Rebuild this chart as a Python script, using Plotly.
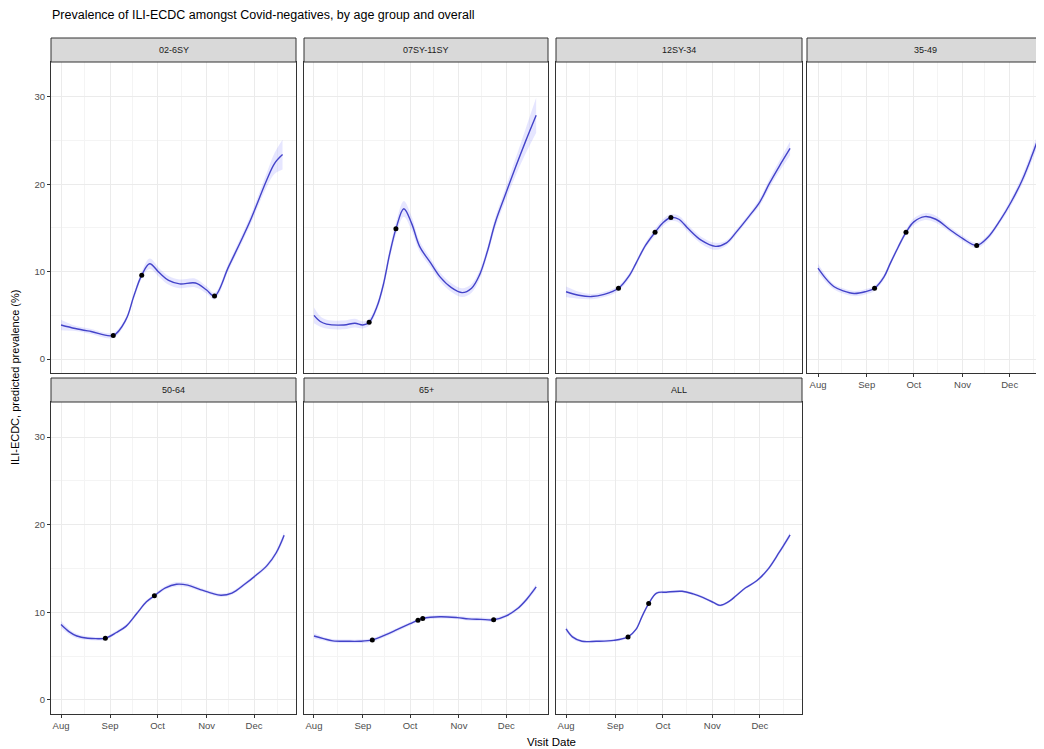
import plotly.graph_objects as go

# ---------------- data ----------------
TITLE = "Prevalence of ILI-ECDC amongst Covid-negatives, by age group and overall"
Y_TITLE = "ILI-ECDC, predicted prevalence (%)"
X_TITLE = "Visit Date"

panel_names = ["02-6SY", "07SY-11SY", "12SY-34", "35-49", "50-64", "65+", "ALL"]

month_ticks = ["2020-08-01", "2020-09-01", "2020-10-01", "2020-11-01", "2020-12-01"]
month_labels = ["Aug", "Sep", "Oct", "Nov", "Dec"]
month_minor = ["2020-07-16", "2020-08-16", "2020-09-15", "2020-10-16", "2020-11-15", "2020-12-16"]
y_ticks = [0, 10, 20, 30]
y_minor = [5, 15, 25]

# 02-6SY
dates_a = ["2020-08-01", "2020-08-10", "2020-08-20", "2020-09-03", "2020-09-11", "2020-09-16",
           "2020-09-21", "2020-09-26", "2020-10-02", "2020-10-08", "2020-10-15", "2020-10-25",
           "2020-11-01", "2020-11-06", "2020-11-15", "2020-11-28", "2020-12-09", "2020-12-14",
           "2020-12-19"]
prev_a = [3.9, 3.5, 3.15, 2.7, 4.5, 7.2, 9.6, 10.9, 9.9, 9.0, 8.6, 8.7, 7.9, 7.2, 10.6, 15.6,
          20.5, 22.4, 23.4]
ci_a = [0.6, 0.3, 0.3, 0.3, 0.3, 0.4, 0.4, 0.6, 0.5, 0.5, 0.5, 0.5, 0.4, 0.4, 0.4, 0.5, 0.8,
        1.2, 1.7]
pt_dates_a = ["2020-09-03", "2020-09-21", "2020-11-06"]
pt_prev_a = [2.7, 9.6, 7.2]

# 07SY-11SY
dates_b = ["2020-08-01", "2020-08-05", "2020-08-09", "2020-08-20", "2020-08-27", "2020-09-01",
           "2020-09-05", "2020-09-10", "2020-09-14", "2020-09-18", "2020-09-22", "2020-09-27",
           "2020-10-02", "2020-10-07", "2020-10-14", "2020-10-20", "2020-10-27", "2020-11-03",
           "2020-11-09", "2020-11-14", "2020-11-19", "2020-11-24", "2020-11-30", "2020-12-07",
           "2020-12-13", "2020-12-20"]
prev_b = [5.0, 4.3, 4.0, 3.9, 4.1, 3.9, 4.2, 6.0, 8.5, 12.0, 14.9, 17.2, 15.5, 12.9, 11.0, 9.4,
          8.2, 7.6, 8.1, 9.6, 12.3, 15.6, 18.6, 22.0, 24.8, 27.9]
ci_b = [0.9, 0.6, 0.5, 0.5, 0.5, 0.4, 0.4, 0.4, 0.5, 0.6, 0.7, 0.9, 0.8, 0.6, 0.5, 0.5, 0.5,
        0.5, 0.5, 0.5, 0.5, 0.6, 0.7, 1.0, 1.4, 2.0]
pt_dates_b = ["2020-09-05", "2020-09-22"]
pt_prev_b = [4.2, 14.9]

# 12SY-34
dates_c = ["2020-08-01", "2020-08-09", "2020-08-17", "2020-08-25", "2020-09-03", "2020-09-10",
           "2020-09-14", "2020-09-20", "2020-09-26", "2020-10-01", "2020-10-06", "2020-10-11",
           "2020-10-17", "2020-10-25", "2020-11-03", "2020-11-10", "2020-11-16", "2020-11-24",
           "2020-12-01", "2020-12-07", "2020-12-13", "2020-12-20"]
prev_c = [7.7, 7.3, 7.15, 7.4, 8.1, 9.6, 10.95, 13.0, 14.5, 15.6, 16.2, 16.0, 14.9, 13.6, 12.9,
          13.3, 14.5, 16.3, 18.0, 20.1, 22.0, 24.1]
ci_c = [0.6, 0.4, 0.3, 0.3, 0.3, 0.3, 0.3, 0.3, 0.4, 0.4, 0.4, 0.4, 0.4, 0.4, 0.4, 0.3, 0.3,
        0.3, 0.4, 0.5, 0.6, 0.8]
pt_dates_c = ["2020-09-03", "2020-09-26", "2020-10-06"]
pt_prev_c = [8.1, 14.5, 16.2]

# 35-49
dates_d = ["2020-08-01", "2020-08-06", "2020-08-11", "2020-08-17", "2020-08-24", "2020-08-31",
           "2020-09-06", "2020-09-12", "2020-09-16", "2020-09-21", "2020-09-26", "2020-10-01",
           "2020-10-08", "2020-10-15", "2020-10-24", "2020-11-01", "2020-11-10", "2020-11-17",
           "2020-11-25", "2020-12-02", "2020-12-09", "2020-12-15", "2020-12-21"]
prev_d = [10.4, 9.2, 8.3, 7.8, 7.5, 7.7, 8.1, 9.4, 10.95, 12.8, 14.5, 15.7, 16.3, 16.0, 14.8,
          13.8, 13.0, 13.9, 15.9, 18.0, 20.5, 23.2, 26.2]
ci_d = [0.5, 0.4, 0.3, 0.3, 0.3, 0.3, 0.3, 0.3, 0.3, 0.3, 0.3, 0.4, 0.4, 0.4, 0.3, 0.3, 0.3,
        0.3, 0.3, 0.4, 0.5, 0.6, 0.8]
pt_dates_d = ["2020-09-06", "2020-09-26", "2020-11-10"]
pt_prev_d = [8.1, 14.5, 13.0]

# 50-64
dates_e = ["2020-08-01", "2020-08-06", "2020-08-11", "2020-08-18", "2020-08-23", "2020-08-29",
           "2020-09-05", "2020-09-11", "2020-09-18", "2020-09-24", "2020-09-29", "2020-10-06",
           "2020-10-13", "2020-10-20", "2020-10-28", "2020-11-04", "2020-11-10", "2020-11-17",
           "2020-11-25", "2020-12-02", "2020-12-09", "2020-12-15", "2020-12-20"]
prev_e = [8.6, 7.8, 7.3, 7.05, 7.0, 7.05, 7.7, 8.4, 9.9, 11.2, 11.9, 12.8, 13.2, 13.1, 12.6,
          12.2, 11.95, 12.2, 13.2, 14.2, 15.3, 16.8, 18.8]
ci_e = [0.4, 0.3, 0.25, 0.2, 0.2, 0.2, 0.2, 0.2, 0.2, 0.2, 0.2, 0.2, 0.25, 0.25, 0.2, 0.2,
        0.2, 0.2, 0.2, 0.2, 0.25, 0.3, 0.4]
pt_dates_e = ["2020-08-29", "2020-09-29"]
pt_prev_e = [7.05, 11.9]

# 65+
dates_f = ["2020-08-01", "2020-08-07", "2020-08-13", "2020-08-22", "2020-08-30", "2020-09-07",
           "2020-09-15", "2020-09-23", "2020-10-01", "2020-10-06", "2020-10-09", "2020-10-20",
           "2020-10-31", "2020-11-07", "2020-11-15", "2020-11-23", "2020-12-01", "2020-12-08",
           "2020-12-14", "2020-12-20"]
prev_f = [7.3, 7.0, 6.75, 6.7, 6.7, 6.85, 7.4, 8.05, 8.7, 9.1, 9.3, 9.5, 9.4, 9.25, 9.2, 9.15,
          9.6, 10.4, 11.5, 12.9]
ci_f = [0.3, 0.2, 0.2, 0.2, 0.2, 0.2, 0.2, 0.2, 0.2, 0.2, 0.2, 0.2, 0.2, 0.2, 0.2, 0.2, 0.2,
        0.2, 0.25, 0.3]
pt_dates_f = ["2020-09-07", "2020-10-06", "2020-10-09", "2020-11-23"]
pt_prev_f = [6.85, 9.1, 9.3, 9.15]

# ALL
dates_g = ["2020-08-01", "2020-08-05", "2020-08-11", "2020-08-20", "2020-08-31", "2020-09-09",
           "2020-09-14", "2020-09-18", "2020-09-22", "2020-09-27", "2020-10-03", "2020-10-13",
           "2020-10-20", "2020-10-26", "2020-11-02", "2020-11-06", "2020-11-12", "2020-11-16",
           "2020-11-22", "2020-11-29", "2020-12-06", "2020-12-13", "2020-12-20"]
prev_g = [8.1, 7.2, 6.7, 6.7, 6.8, 7.2, 8.05, 9.6, 11.0, 12.2, 12.3, 12.4, 12.1, 11.7, 11.1,
          10.8, 11.3, 11.9, 12.8, 13.6, 14.9, 16.8, 18.85]
ci_g = [0.3, 0.2, 0.15, 0.15, 0.15, 0.15, 0.15, 0.15, 0.15, 0.15, 0.15, 0.15, 0.15, 0.15, 0.15,
        0.15, 0.15, 0.15, 0.15, 0.15, 0.2, 0.25, 0.3]
pt_dates_g = ["2020-09-09", "2020-09-22"]
pt_prev_g = [7.2, 11.0]

series = [
    (dates_a, prev_a, ci_a, pt_dates_a, pt_prev_a),
    (dates_b, prev_b, ci_b, pt_dates_b, pt_prev_b),
    (dates_c, prev_c, ci_c, pt_dates_c, pt_prev_c),
    (dates_d, prev_d, ci_d, pt_dates_d, pt_prev_d),
    (dates_e, prev_e, ci_e, pt_dates_e, pt_prev_e),
    (dates_f, prev_f, ci_f, pt_dates_f, pt_prev_f),
    (dates_g, prev_g, ci_g, pt_dates_g, pt_prev_g),
]

# ---------------- layout ----------------
OFF = 8                      # page body margin
W, H = 1044 - OFF, 749 - OFF
FONT = "Liberation Sans, Arial, sans-serif"
LINE_COLOR = "#4343c9"
BAND_COLOR = "rgba(90,90,255,0.15)"

# positions in screen pixels of the reference
cols_px = [(51, 296), (304, 548), (556, 802), (807, 1044)]
rows_px = [(62, 373), (402, 714)]
strips_px = [(38, 62), (378, 402)]
x_range_full = ["2020-07-25 16:00", "2020-12-27 12:00"]
x_range_cut = ["2020-07-25 00:00", "2020-12-22 20:00"]
y_range = [-1.6, 34.0]


def fx(p):
    return (p - OFF) / W


def fy(p):
    return 1 - (p - OFF) / H


fig = go.Figure()
shapes = []
annotations = []

for i, (name, (d, v, ci, pd_, pv)) in enumerate(zip(panel_names, series)):
    r, c = divmod(i, 4)
    n = "" if i == 0 else str(i + 1)
    xa, ya = "x" + n, "y" + n
    lo = [a - b for a, b in zip(v, ci)]
    hi = [a + b for a, b in zip(v, ci)]
    fig.add_trace(go.Scatter(x=d, y=lo, mode="lines", line=dict(width=0, shape="spline"),
                             hoverinfo="skip", showlegend=False, xaxis=xa, yaxis=ya))
    fig.add_trace(go.Scatter(x=d, y=hi, mode="lines", line=dict(width=0, shape="spline"),
                             fill="tonexty", fillcolor=BAND_COLOR,
                             hoverinfo="skip", showlegend=False, xaxis=xa, yaxis=ya))
    fig.add_trace(go.Scatter(x=d, y=v, mode="lines",
                             line=dict(color=LINE_COLOR, width=1.4, shape="spline"),
                             showlegend=False, xaxis=xa, yaxis=ya))
    fig.add_trace(go.Scatter(x=pd_, y=pv, mode="markers",
                             marker=dict(color="black", size=5),
                             showlegend=False, xaxis=xa, yaxis=ya))

    x0, x1 = cols_px[c]
    y0, y1 = rows_px[r]
    show_x = (r == 1) or (i == 3)
    show_y = (c == 0)
    fig.layout["xaxis" + n] = dict(
        domain=[fx(x0), min(1.0, fx(x1))], anchor=ya, type="date",
        range=x_range_cut if c == 3 else x_range_full,
        tickmode="array", tickvals=month_ticks, ticktext=month_labels,
        showticklabels=show_x, ticks="outside" if show_x else "", ticklen=3,
        tickcolor="#333333", tickfont=dict(size=9.5, color="#4d4d4d", family=FONT),
        showgrid=True, gridcolor="#ebebeb", gridwidth=1,
        minor=dict(tickmode="array", tickvals=month_minor, showgrid=True,
                   gridcolor="#f4f4f4", gridwidth=0.6),
        showline=True, linecolor="#333333", linewidth=1, mirror=True,
        zeroline=False, fixedrange=True,
    )
    fig.layout["yaxis" + n] = dict(
        domain=[fy(y1), fy(y0)], anchor=xa, range=y_range,
        tickmode="array", tickvals=y_ticks,
        showticklabels=show_y, ticks="outside" if show_y else "", ticklen=3,
        tickcolor="#333333", tickfont=dict(size=9.5, color="#4d4d4d", family=FONT),
        showgrid=True, gridcolor="#ebebeb", gridwidth=1,
        minor=dict(tickmode="array", tickvals=y_minor, showgrid=True,
                   gridcolor="#f4f4f4", gridwidth=0.6),
        showline=True, linecolor="#333333", linewidth=1, mirror=True,
        zeroline=False, fixedrange=True,
    )

    s0, s1 = strips_px[r]
    shapes.append(dict(type="rect", xref="paper", yref="paper",
                       x0=fx(x0), x1=min(1.0, fx(x1)), y0=fy(s1), y1=fy(s0),
                       fillcolor="#d9d9d9", line=dict(color="#333333", width=1),
                       layer="above"))
    annotations.append(dict(text=name, xref="paper", yref="paper",
                            x=fx((x0 + x1) / 2), y=fy((s0 + s1) / 2),
                            xanchor="center", yanchor="middle", showarrow=False,
                            font=dict(size=9, color="#1a1a1a", family=FONT)))

annotations.append(dict(text=TITLE, xref="paper", yref="paper", x=fx(50), y=fy(15),
                        xanchor="left", yanchor="middle", showarrow=False,
                        font=dict(size=12.5, color="black", family=FONT)))
annotations.append(dict(text=Y_TITLE, xref="paper", yref="paper", x=fx(15), y=fy(378),
                        xanchor="center", yanchor="middle", textangle=-90, showarrow=False,
                        font=dict(size=11, color="black", family=FONT)))
annotations.append(dict(text=X_TITLE, xref="paper", yref="paper", x=fx(551), y=fy(742),
                        xanchor="center", yanchor="middle", showarrow=False,
                        font=dict(size=11.5, color="black", family=FONT)))

fig.update_layout(
    width=W, height=H,
    margin=dict(l=0, r=0, t=0, b=0),
    paper_bgcolor="white", plot_bgcolor="white",
    shapes=shapes, annotations=annotations,
    font=dict(family=FONT),
    showlegend=False,
)

fig.write_html("out.html")
